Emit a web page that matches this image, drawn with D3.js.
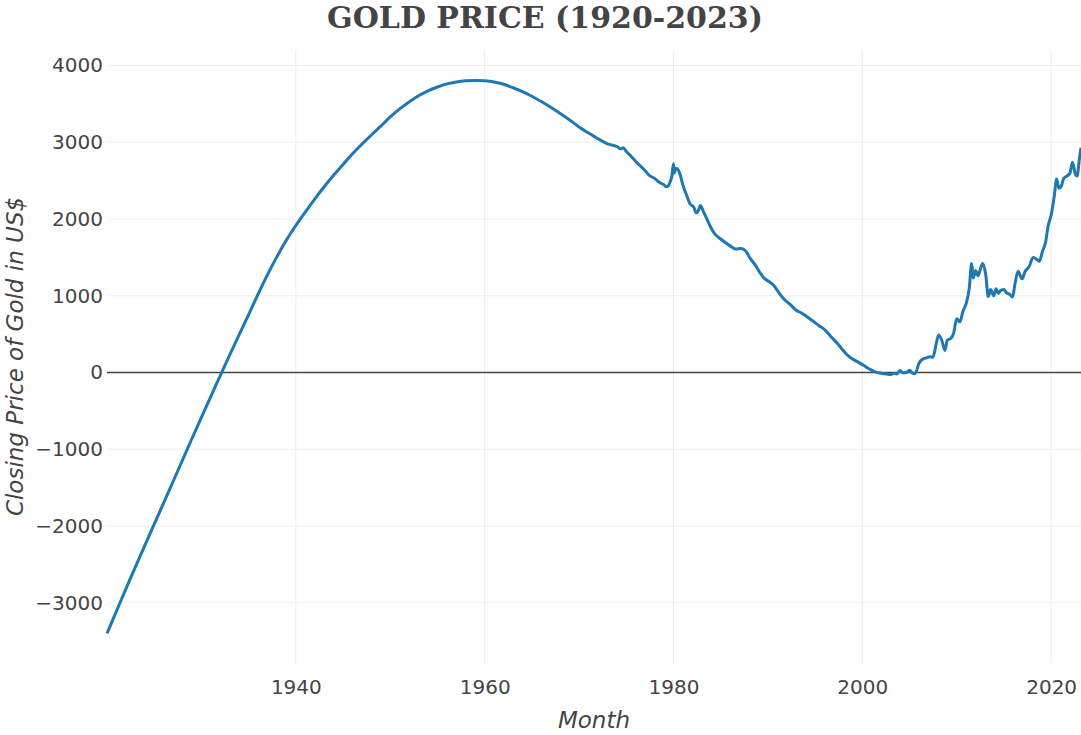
<!DOCTYPE html>
<html>
<head>
<meta charset="utf-8">
<script src="https://cdn.jsdelivr.net/npm/d3@7"></script>
<style>
	body { margin: 0; background: #fff; }
	text { fill: #444; }
</style>
</head>
<body>
<svg id="chart"></svg>
<script>
var w = 1081;
var h = 735;

// months, closing price (detrended) in US$
var months = [
	"1920-01", "1921-01", "1922-01", "1923-01", "1924-01", "1925-01", "1926-01", "1927-01",
	"1928-01", "1929-01", "1930-01", "1931-01", "1932-01", "1933-01", "1934-01", "1935-01",
	"1936-01", "1937-01", "1938-01", "1939-01", "1940-01", "1941-01", "1942-01", "1943-01",
	"1944-01", "1945-01", "1946-01", "1947-01", "1948-01", "1949-01", "1950-01", "1951-01",
	"1952-01", "1953-01", "1954-01", "1955-01", "1956-01", "1957-01", "1958-01", "1959-01",
	"1960-01", "1961-01", "1962-01", "1963-01", "1964-01", "1965-01", "1966-01", "1967-01",
	"1968-01", "1969-01", "1970-01", "1971-01", "1972-01", "1973-01", "1974-01", "1974-06",
	"1974-09", "1975-01", "1975-06", "1976-01", "1976-06", "1977-01", "1977-06", "1978-01",
	"1978-06", "1979-01", "1979-04", "1979-07", "1979-09", "1979-11", "1980-01", "1980-02",
	"1980-04", "1980-07", "1980-10", "1981-01", "1981-05", "1981-10", "1982-03", "1982-06",
	"1982-09", "1982-11", "1983-03", "1983-07", "1984-01", "1984-06", "1985-01", "1985-06",
	"1986-01", "1986-08", "1987-03", "1987-09", "1988-03", "1988-09", "1989-03", "1989-08",
	"1990-03", "1990-08", "1991-03", "1991-09", "1992-06", "1993-01", "1993-06", "1994-01",
	"1994-09", "1995-06", "1996-01", "1996-09", "1997-06", "1998-03", "1998-09", "1999-06",
	"2000-03", "2000-10", "2001-06", "2002-01", "2002-08", "2003-01", "2003-06", "2003-09",
	"2004-01", "2004-05", "2004-09", "2005-01", "2005-05", "2005-08", "2006-01", "2006-05",
	"2006-10", "2007-03", "2007-07", "2007-11", "2008-02", "2008-06", "2008-10", "2009-01",
	"2009-06", "2009-09", "2010-01", "2010-05", "2010-09", "2011-01", "2011-05", "2011-08",
	"2011-10", "2012-01", "2012-04", "2012-08", "2012-10", "2013-02", "2013-05", "2013-08",
	"2013-12", "2014-03", "2014-06", "2014-09", "2015-01", "2015-04", "2015-08", "2015-12",
	"2016-03", "2016-07", "2016-12", "2017-04", "2017-09", "2018-02", "2018-06", "2018-10",
	"2019-02", "2019-06", "2019-09", "2020-01", "2020-05", "2020-08", "2020-11", "2021-02",
	"2021-05", "2021-09", "2022-01", "2022-04", "2022-08", "2022-10", "2023-01", "2023-03"
];

var prices = [
	-3400, -3110, -2820, -2535, -2255, -1975, -1700, -1420,
	-1140, -860, -585, -310, -40, 230, 495, 755,
	1020, 1275, 1510, 1725, 1915, 2090, 2260, 2420,
	2570, 2710, 2850, 2975, 3095, 3210, 3330, 3435,
	3525, 3605, 3670, 3720, 3760, 3785, 3800, 3805,
	3800, 3785, 3755, 3710, 3660, 3600, 3530, 3455,
	3375, 3290, 3200, 3120, 3045, 2980, 2945, 2915,
	2930, 2880, 2830, 2750, 2700, 2630, 2570, 2530,
	2485, 2445, 2420, 2440, 2490, 2560, 2720, 2600,
	2660, 2640, 2560, 2440, 2330, 2200, 2150, 2080,
	2120, 2175, 2100, 2010, 1880, 1800, 1740, 1700,
	1650, 1610, 1615, 1580, 1480, 1400, 1300, 1230,
	1180, 1140, 1040, 960, 880, 810, 785, 740,
	680, 610, 560, 470, 370, 260, 200, 145,
	90, 45, 5, -10, -20, -25, -10, -20,
	25, -5, 0, 30, -10, -15, 120, 170,
	190, 205, 200, 380, 490, 420, 290, 420,
	450, 510, 700, 660, 800, 900, 1100, 1420,
	1230, 1330, 1260, 1380, 1420, 1260, 990, 1080,
	1000, 1090, 1030, 1070, 1080, 1040, 1020, 985,
	1150, 1320, 1220, 1320, 1380, 1500, 1480, 1450,
	1580, 1700, 1900, 2050, 2300, 2520, 2400, 2430,
	2530, 2560, 2600, 2740, 2580, 2560, 2790, 2930
];

var xTicks = [1940, 1960, 1980, 2000, 2020];
var yTicks = [-3000, -2000, -1000, 0, 1000, 2000, 3000, 4000];

var margin = { top: 50, right: 0, bottom: 72, left: 107 };

function drawChart() {
	var parse = d3.timeParse("%Y-%m");
	var data = months.map(function (m, i) {
		return { date: parse(m), price: prices[i] };
	});

	var svg = d3.select("#chart")
		.attr("width", w)
		.attr("height", h);

	var x = d3.scaleTime()
		.domain([parse("1920-01"), parse("2023-03")])
		.range([margin.left, w - margin.right]);

	var y = d3.scaleLinear()
		.domain([-3785, 4202])
		.range([h - margin.bottom, margin.top]);

	//grid lines
	svg.append("g")
		.selectAll("line")
		.data(xTicks)
		.enter().append("line")
		.attr("x1", d => x(new Date(d, 0, 1)))
		.attr("x2", d => x(new Date(d, 0, 1)))
		.attr("y1", margin.top)
		.attr("y2", h - margin.bottom)
		.style("stroke", "#eee")
		.style("stroke-width", 1);

	svg.append("g")
		.selectAll("line")
		.data(yTicks.filter(d => d !== 0))
		.enter().append("line")
		.attr("x1", margin.left)
		.attr("x2", w - margin.right)
		.attr("y1", d => y(d))
		.attr("y2", d => y(d))
		.style("stroke", "#eee")
		.style("stroke-width", 1);

	//zero line
	svg.append("line")
		.attr("x1", margin.left)
		.attr("x2", w - margin.right)
		.attr("y1", y(0))
		.attr("y2", y(0))
		.style("stroke", "#444")
		.style("stroke-width", 1.5);

	//axes
	var xAxis = d3.axisBottom(x)
		.tickValues(xTicks.map(d => new Date(d, 0, 1)))
		.tickFormat(d3.timeFormat("%Y"))
		.tickSize(0)
		.tickPadding(17);

	var yAxis = d3.axisLeft(y)
		.tickValues(yTicks)
		.tickFormat(d3.format("d"))
		.tickSize(0)
		.tickPadding(4);

	svg.append("g")
		.attr("class", "x_axis")
		.attr("transform", "translate(0," + (h - margin.bottom) + ")")
		.call(xAxis)
		.call(g => g.select(".domain").remove());

	svg.append("g")
		.attr("class", "y_axis")
		.attr("transform", "translate(" + margin.left + ",0)")
		.call(yAxis)
		.call(g => g.select(".domain").remove());

	svg.selectAll(".x_axis text, .y_axis text")
		.attr("font-family", "DejaVu Sans, Verdana, sans-serif")
		.attr("font-size", 20)
		.style("fill", "#444");

	//price line
	var line = d3.line()
		.curve(d3.curveMonotoneX)
		.x(d => x(d.date))
		.y(d => y(d.price));

	svg.append("path")
		.datum(data)
		.attr("d", line)
		.style("fill", "none")
		.style("stroke", "#1f77b4")
		.style("stroke-width", 3)
		.style("stroke-linejoin", "round");

	//titles
	svg.append("text")
		.attr("x", 545)
		.attr("y", 28)
		.attr("text-anchor", "middle")
		.attr("font-family", "DejaVu Serif, serif")
		.attr("font-weight", "bold")
		.attr("font-size", 30)
		.text("GOLD PRICE (1920-2023)");

	svg.append("text")
		.attr("x", (margin.left + w - margin.right) / 2)
		.attr("y", 728)
		.attr("text-anchor", "middle")
		.attr("font-family", "DejaVu Sans, Verdana, sans-serif")
		.attr("font-style", "italic")
		.attr("font-size", 23)
		.text("Month");

	svg.append("text")
		.attr("transform", "translate(23," + ((margin.top + h - margin.bottom) / 2) + ") rotate(-90)")
		.attr("text-anchor", "middle")
		.attr("font-family", "DejaVu Sans, Verdana, sans-serif")
		.attr("font-style", "italic")
		.attr("font-size", 23)
		.text("Closing Price of Gold in US$");
}

drawChart();
</script>
</body>
</html>
